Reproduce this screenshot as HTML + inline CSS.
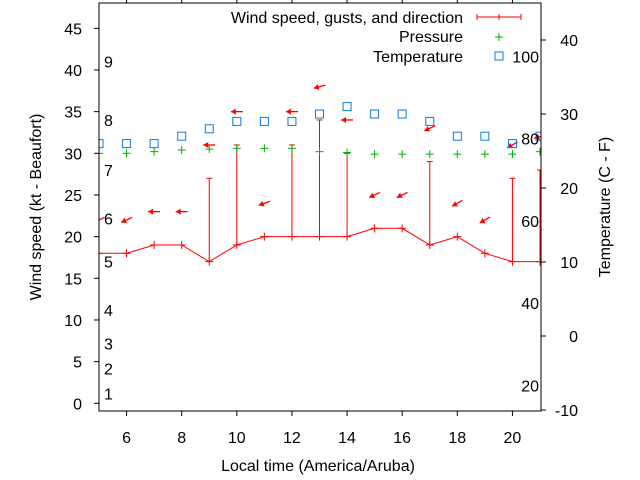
<!DOCTYPE html>
<html><head><meta charset="utf-8"><style>
body{margin:0;background:#fff}
svg{display:block;font-family:"Liberation Sans",sans-serif;font-size:16px}
</style></head><body>
<svg id="chart" width="640" height="480" viewBox="0 0 640 480">
<defs><clipPath id="pc"><rect x="99" y="3" width="442" height="408"/></clipPath></defs>
<g id="marks" clip-path="url(#pc)"></g>
<g id="axes"></g>
<g id="legend">
<text x="463" y="23" text-anchor="end">Wind speed, gusts, and direction</text>
<g stroke="#f00" stroke-width="1"><line x1="477" y1="17" x2="521" y2="17"/><line x1="477" y1="14" x2="477" y2="20"/><line x1="521" y1="14" x2="521" y2="20"/><line x1="499" y1="14" x2="499" y2="20"/></g>
<text x="463" y="42" text-anchor="end">Pressure</text>
<g stroke="#00b000"><line x1="495" y1="37" x2="503" y2="37"/><line x1="499" y1="33" x2="499" y2="41"/></g>
<text x="463" y="62" text-anchor="end">Temperature</text>
<rect x="495" y="52" width="8" height="8" fill="none" stroke="#0a7ae0"/>
</g>
<text transform="translate(41,207) rotate(-90)" text-anchor="middle">Wind speed (kt - Beaufort)</text>
<text transform="translate(610,207) rotate(-90)" text-anchor="middle">Temperature (C - F)</text>
<text x="318" y="471" text-anchor="middle">Local time (America/Aruba)</text>
</svg>
<script>
const hours=[5,6,7,8,9,10,11,12,13,14,15,16,17,18,19,20,21];
const speed=[18,18,19,19,17,19,20,20,20,20,21,21,19,20,18,17,17];
const gust=[null,null,null,null,27,31,null,31,34,30,null,null,29,null,null,27,28];
const arrowY=[22,22,23,23,31,35,24,35,38,34,25,25,33,24,22,31,32];
const dirFrom=[65,65,90,90,90,90,70,90,75,90,65,65,65,60,60,60,75];
const pressure=[30.0,30.0,30.2,30.4,30.5,30.6,30.6,30.6,30.2,30.1,29.9,29.9,29.9,29.9,29.9,29.9,30.2];
const temperature=[26,26,26,27,28,29,29,29,30,31,30,30,29,27,27,26,27];
const xTicks=[6,8,10,12,14,16,18,20];
const yTicks=[0,5,10,15,20,25,30,35,40,45];
const y2Ticks=[-10,0,10,20,30,40];
const fTicks=[20,40,60,80,100];
const beaufortLabels=["1","2","3","4","5","6","7","8","9"];
const beaufortKt=[1.2,4.2,7.2,11.2,17,22.2,28,34,41];

const L=99,R=541,T=3,B=411;
const X=h=>99+(h-5)*27.5625;
const Y=v=>403.3-v*8.333;
const Y2=c=>336-c*7.4;
const NS="http://www.w3.org/2000/svg";
function mk(tag,attrs,parent){const e=document.createElementNS(NS,tag);for(const k in attrs)e.setAttribute(k,attrs[k]);parent.appendChild(e);return e;}
const axes=document.getElementById('axes'),marks=document.getElementById('marks');

let box=mk('rect',{x:L,y:T,width:R-L,height:B-T,fill:'none',stroke:'#000'},axes);


xTicks.forEach(h=>{
 const x=X(h);
 mk('line',{x1:x,y1:B,x2:x,y2:B+5,stroke:'#000'},axes);
 mk('line',{x1:x,y1:T,x2:x,y2:T-4,stroke:'#000'},axes);
 const t=mk('text',{x:x,y:443,'text-anchor':'middle'},axes);t.textContent=h;
 
 
});
yTicks.forEach(v=>{
 const y=Y(v);
 mk('line',{x1:L,y1:y,x2:L-5,y2:y,stroke:'#000'},axes);
 const t=mk('text',{x:82,y:y+6,'text-anchor':'end'},axes);t.textContent=v;
 
 
});
y2Ticks.forEach(c=>{
 const y=Y2(c);
 mk('line',{x1:R,y1:y,x2:R+5,y2:y,stroke:'#000'},axes);
 const t=mk('text',{x:578,y:y+6,'text-anchor':'end'},axes);t.textContent=c;
 
 
});
fTicks.forEach(f=>{
 const y=Y2((f-32)/1.8);
 const t=mk('text',{x:539,y:y+6,'text-anchor':'end'},axes);t.textContent=f;
 
 
});
beaufortLabels.forEach((s,i)=>{
 const t=mk('text',{x:104,y:Y(beaufortKt[i])+6},axes);t.textContent=s;
 
 
});

let pts=hours.map((h,i)=>X(h)+','+Y(speed[i])).join(' ');
let pl=mk('polyline',{points:pts,fill:'none',stroke:'#f00'},marks);


hours.forEach((h,i)=>{
 const x=X(h),y=Y(speed[i]);
 const g=mk('g',{stroke:'#f00'},marks);
 
 
 mk('line',{x1:x-4,y1:y,x2:x+4,y2:y},g);mk('line',{x1:x,y1:y-4,x2:x,y2:y+4},g);
 if(gust[i]!=null){
  const gy=Y(gust[i]);
  const gg=mk('g',{stroke:'#f00'},marks);
  
  
  mk('line',{x1:x,y1:y,x2:x,y2:gy},gg);mk('line',{x1:x-3,y1:gy,x2:x+3,y2:gy},gg);
 }
 const b=(dirFrom[i]+180)*Math.PI/180, dx=Math.sin(b), dy=-Math.cos(b);
 const ay=Y(arrowY[i]);
 const hx=x+dx*6, hy=ay+dy*6, tx=x-dx*6, ty=ay-dy*6;
 const ag=mk('g',{},marks);
 
 
 mk('line',{x1:tx,y1:ty,x2:hx,y2:hy,stroke:'#f00','stroke-width':1.3},ag);
 const px=-dy,py=dx;
 const bx=hx-dx*5,by=hy-dy*5;
 mk('polygon',{points:`${hx},${hy} ${bx+px*3},${by+py*3} ${bx-px*3},${by-py*3}`,fill:'#f00'},ag);
 const py2=Y(pressure[i]);
 const pg=mk('g',{stroke:'#00b000'},marks);
 
 
 mk('line',{x1:x-4,y1:py2,x2:x+4,y2:py2},pg);mk('line',{x1:x,y1:py2-4,x2:x,y2:py2+4},pg);
 const ty2=Y2(temperature[i]);
 const r=mk('rect',{x:x-4,y:ty2-4,width:8,height:8,fill:'none',stroke:'#0a7ae0'},marks);
 
 
});
</script>
</body></html>
